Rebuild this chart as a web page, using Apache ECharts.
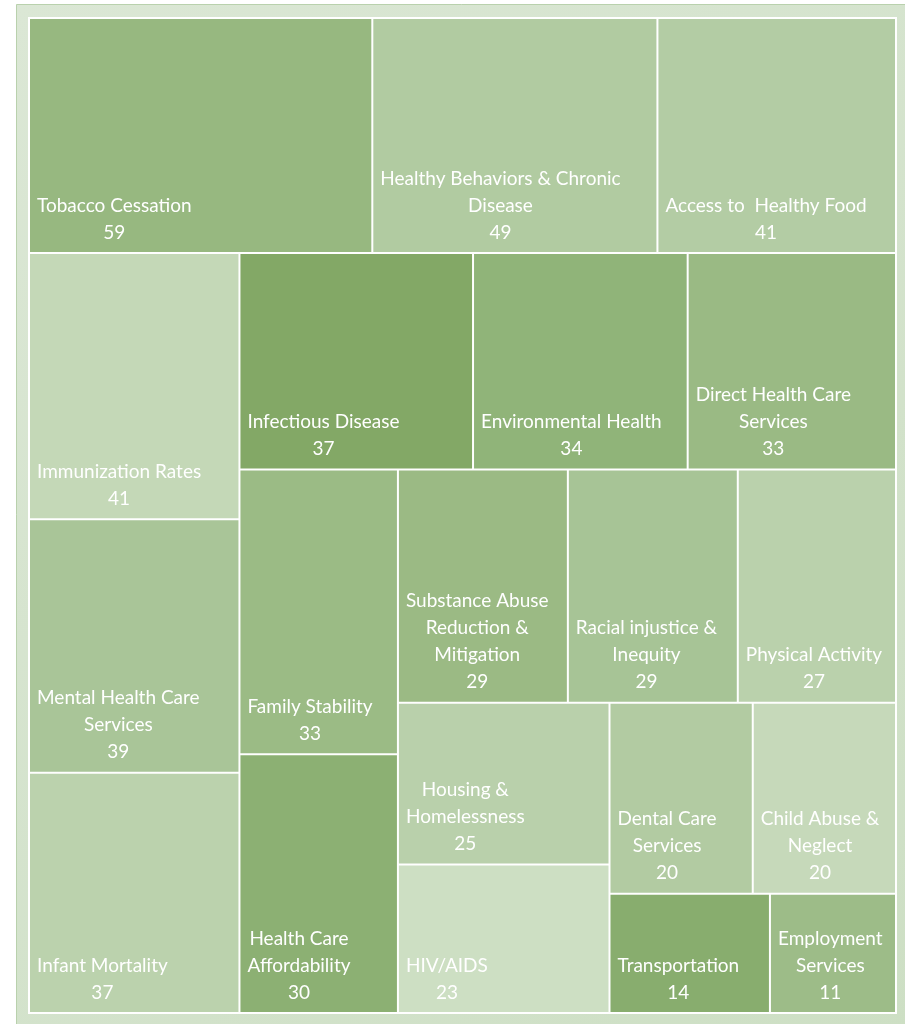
<!DOCTYPE html>
<html><head><meta charset="utf-8">
<script src="https://cdn.jsdelivr.net/npm/echarts@6/dist/echarts.min.js"></script>
<style>html,body{margin:0;padding:0;background:#fff}#c{width:905px;height:1024px}</style>
</head><body><div id="c"></div>
<script>
// ---- data ----
const categories = [
  'Tobacco Cessation', 'Healthy Behaviors & Chronic\nDisease', 'Access to  Healthy Food',
  'Immunization Rates', 'Mental Health Care\nServices', 'Infant Mortality',
  'Infectious Disease', 'Environmental Health', 'Direct Health Care\nServices',
  'Family Stability', 'Health Care\nAffordability',
  'Substance Abuse\nReduction &\nMitigation', 'Racial injustice &\nInequity', 'Physical Activity',
  'Housing &\nHomelessness', 'HIV/AIDS',
  'Dental Care\nServices', 'Child Abuse &\nNeglect',
  'Transportation', 'Employment\nServices'
];
const values = [59, 49, 41, 41, 39, 37, 37, 34, 33, 33, 30, 29, 29, 27, 25, 23, 20, 20, 14, 11];
const cellColors = [
  '#97b880', '#b1cba1', '#b3cca4',
  '#c4d8b7', '#a9c598', '#bbd2ad',
  '#83a866', '#90b479', '#9aba84',
  '#9bbb85', '#8cb073',
  '#9bba84', '#a7c496', '#bad1ac',
  '#b9d0ab', '#cddfc3',
  '#b2cba2', '#c6d9ba',
  '#88ad6e', '#9dbc88'
];
// grouping of category indices into nested blocks (reproduces the original slicing order)
const nesting = [[0, 1, 2], [[3, 4, 5], [[6, 7, 8], [[9, 10], [[11, 12, 13], [[14, 15], [[16, 17], [18, 19]]]]]]]];

// ---- label measurement (left-placed block whose lines are centred) ----
const FONT_SIZE = 19;
const FONT_WEIGHT = 'normal';
const FONT_FAMILY = 'Lato, "Noto Sans", sans-serif';
const mctx = document.createElement('canvas').getContext('2d');
mctx.font = FONT_WEIGHT + ' ' + FONT_SIZE + 'px ' + FONT_FAMILY;
function blockWidth(lines) {
  return Math.max.apply(null, lines.map(l => mctx.measureText(l).width));
}

function buildNode(spec) {
  if (typeof spec === 'number') {
    const i = spec;
    const lines = categories[i].split('\n').concat([String(values[i])]);
    const w = blockWidth(lines);
    return {
      name: categories[i],
      value: values[i],
      itemStyle: { color: cellColors[i], borderWidth: 1, borderColor: '#ffffff' },
      label: { position: [7 + w / 2, '100%'] }
    };
  }
  return {
    name: '',
    itemStyle: { borderWidth: 0, gapWidth: 0 },
    children: spec.map(buildNode)
  };
}
const seriesData = nesting.map(buildNode);

const chart = echarts.init(document.getElementById('c'), null, { renderer: 'canvas' });
chart.setOption({
  animation: false,
  backgroundColor: '#ffffff',
  graphic: [{
    type: 'rect', z: -10, silent: true,
    shape: { x: 16.5, y: 4.5, width: 900, height: 1030 },
    style: {
      fill: {
        type: 'linear', x: 0, y: 0, x2: 1, y2: 1,
        colorStops: [{ offset: 0, color: '#dbe7d5' }, { offset: 1, color: '#cddfc4' }]
      },
      stroke: '#b9d1ad', lineWidth: 1
    }
  }],
  series: [{
    type: 'treemap',
    left: 28, top: 17, width: 869, height: 997,
    roam: false,
    nodeClick: false,
    breadcrumb: { show: false },
    squareRatio: 1,
    sort: false,
    itemStyle: { borderColor: '#ffffff', borderWidth: 1, gapWidth: 0 },
    emphasis: { disabled: true },
    label: {
      show: true,
      color: '#ffffff',
      fontFamily: FONT_FAMILY,
      fontWeight: FONT_WEIGHT,
      fontSize: FONT_SIZE,
      lineHeight: 27,
      align: 'center',
      verticalAlign: 'bottom',
      padding: 0,
      offset: [0, -6],
      overflow: 'none',
      formatter: p => p.name + '\n' + p.value
    },
    data: seriesData
  }]
});
</script>
</body></html>
